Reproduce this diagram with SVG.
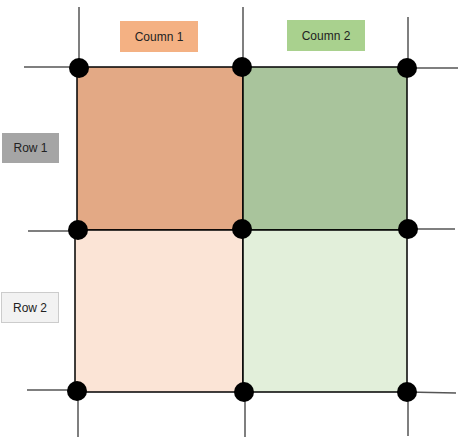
<svg xmlns="http://www.w3.org/2000/svg" width="466" height="443" viewBox="0 0 466 443">
<style>
.cell{stroke:#000;stroke-width:1.5}
.ext{stroke:#555;stroke-width:1.5;fill:none}
.dot{fill:#000}
.lbl{font-family:"Liberation Sans","Noto Sans",sans-serif;font-size:12px;fill:#222;text-anchor:middle;dominant-baseline:central}
</style>
<rect width="466" height="443" fill="#fff"/>
<g id="cells">
<rect id="cell-r1c1" class="cell" x="77" y="67" width="166" height="163" fill="#E3A985"/>
<rect id="cell-r1c2" class="cell" x="243" y="67" width="164" height="163" fill="#A9C49C"/>
<rect id="cell-r2c1" class="cell" x="75" y="230" width="168" height="162" fill="#FBE4D6"/>
<rect id="cell-r2c2" class="cell" x="243" y="230" width="164" height="162" fill="#E2EFDA"/>
</g>
<g id="connectors">
<line class="ext" x1="79" y1="7" x2="79" y2="68"/>
<line class="ext" x1="24" y1="67" x2="78" y2="67"/>
<line class="ext" x1="243" y1="7" x2="243" y2="67"/>
<line class="ext" x1="408" y1="17" x2="408" y2="68"/>
<line class="ext" x1="407" y1="68" x2="458" y2="68"/>
<line class="ext" x1="28" y1="231" x2="78" y2="231"/>
<line class="ext" x1="407" y1="229" x2="455" y2="229"/>
<line class="ext" x1="27" y1="390" x2="77" y2="390"/>
<line class="ext" x1="78" y1="391" x2="78" y2="437"/>
<line class="ext" x1="245" y1="392" x2="245" y2="437"/>
<line class="ext" x1="407" y1="392" x2="456" y2="393"/>
<line class="ext" x1="408" y1="392" x2="408" y2="436"/>
</g>
<g id="dots">
<circle class="dot" cx="79" cy="68" r="10"/>
<circle class="dot" cx="242" cy="67" r="10"/>
<circle class="dot" cx="407" cy="68" r="10"/>
<circle class="dot" cx="78" cy="230" r="10"/>
<circle class="dot" cx="242" cy="229" r="10"/>
<circle class="dot" cx="408" cy="229" r="10"/>
<circle class="dot" cx="77" cy="391" r="10"/>
<circle class="dot" cx="244" cy="392" r="10"/>
<circle class="dot" cx="407" cy="392" r="10"/>
</g>
<g id="col1">
<rect x="120" y="21" width="78" height="31" fill="#F4B183"/>
<text class="lbl" x="159" y="36.5">Coumn 1</text>
</g>
<g id="col2">
<rect x="287" y="20" width="78" height="31" fill="#A9D18E"/>
<text class="lbl" x="326" y="35.5">Coumn 2</text>
</g>
<g id="row1">
<rect x="2" y="133" width="57" height="30" fill="#A5A5A5"/>
<text class="lbl" x="30.5" y="148">Row 1</text>
</g>
<g id="row2">
<rect x="1.5" y="292.5" width="57" height="30" fill="#F2F2F2" stroke="#ccc" stroke-width="1"/>
<text class="lbl" x="30" y="307.5">Row 2</text>
</g>
</svg>
